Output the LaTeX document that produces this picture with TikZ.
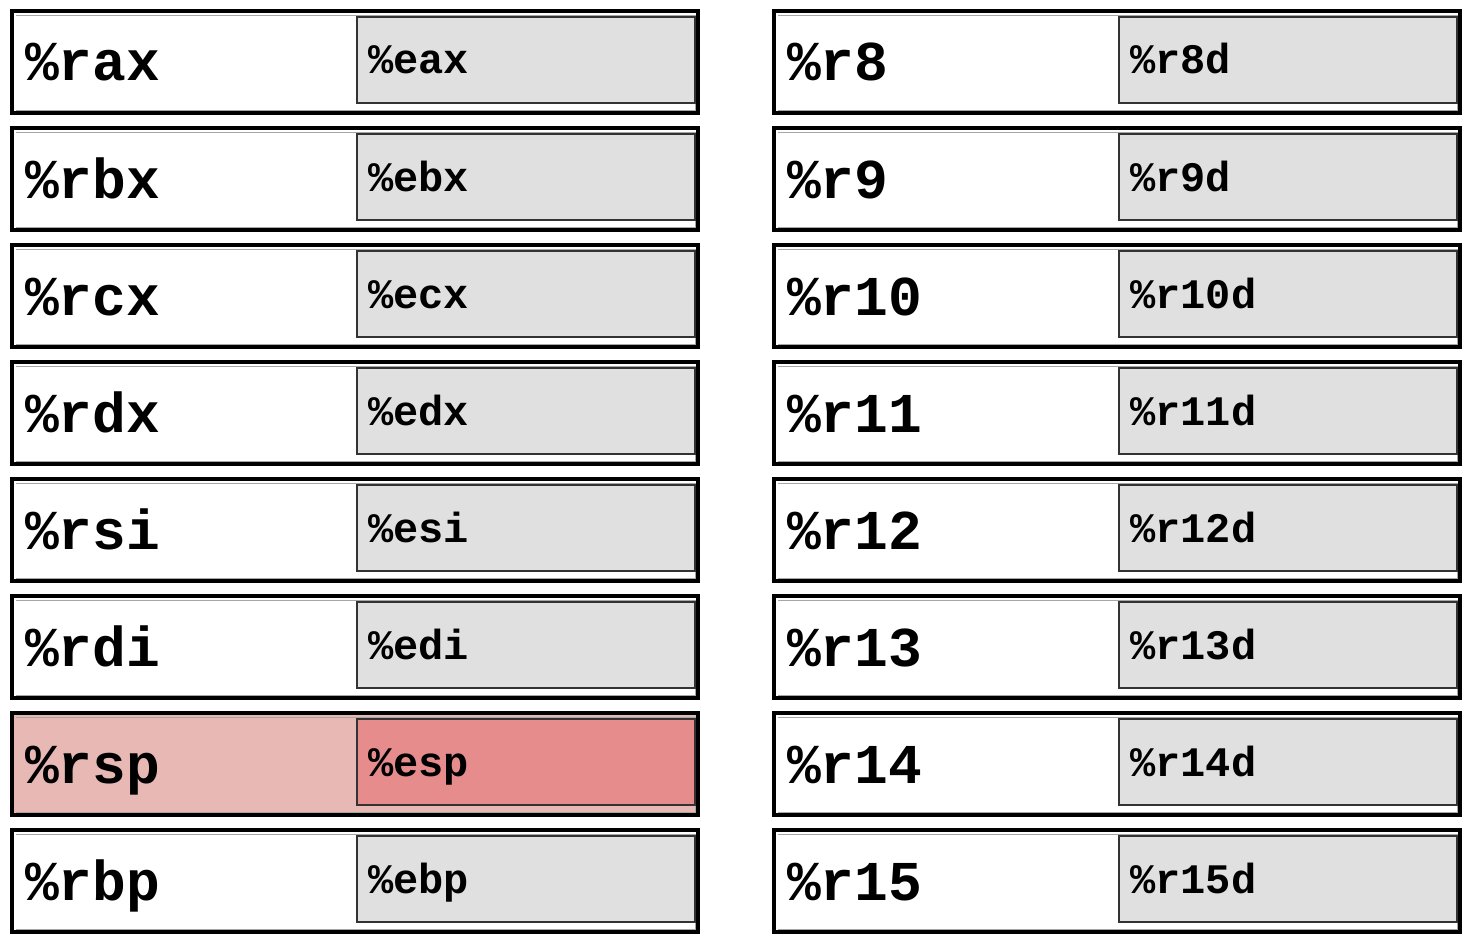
\documentclass[tikz,border=0pt]{standalone}
\usepackage{fontspec}
\setmonofont{Liberation Mono}
\usetikzlibrary{positioning}
\definecolor{subgray}{HTML}{E0E0E0}
\definecolor{rsplight}{HTML}{E8B8B5}
\definecolor{rspdark}{HTML}{E78C8C}

\begin{document}
\begin{tikzpicture}[x=1pt,y=-1pt,
  regbox/.style={draw, line width=4pt, minimum width=686pt, minimum height=102pt, inner sep=0pt, outer sep=0pt, anchor=north west},
  subbox/.style={draw=black!80, line width=1.5pt, minimum width=338pt, minimum height=86pt, inner sep=0pt, outer sep=0pt, anchor=north west},
  innerline/.style={draw=black!35, line width=0.8pt},
  reglabel/.style={font=\ttfamily\bfseries\fontsize{56.25}{60}\selectfont, inner sep=0pt, anchor=base west},
  sublabel/.style={font=\ttfamily\bfseries\fontsize{42}{46}\selectfont, inner sep=0pt, anchor=base west}]
\useasboundingbox (0,0) rectangle (1480,950);

% left column
\foreach \r/\s/\fa/\fb/\lw [count=\i from 0] in {rax/eax/white/subgray/1.5,rbx/ebx/white/subgray/1.5,rcx/ecx/white/subgray/1.5,rdx/edx/white/subgray/1.5,rsi/esi/white/subgray/1.5,rdi/edi/white/subgray/1.5,rsp/esp/rsplight/rspdark/2.5,rbp/ebp/white/subgray/1.5}{
  \node[regbox, fill=\fa] (\r) at (12,11+117*\i) {};
  \draw[innerline] (16,15+117*\i) -- (695,15+117*\i) -- (695,110+117*\i) -- (16,110+117*\i);
  \node[subbox, fill=\fb, line width=\lw pt] (\s) at (357,17+117*\i) {};
  \node[reglabel] (\r-lbl) at (25,81+117*\i) {\%\r};
  \node[sublabel] (\s-lbl) at (368,74+117*\i) {\%\s};
}

% right column
\foreach \r [count=\i from 0] in {8,9,10,11,12,13,14,15}{
  \node[regbox, fill=white] (r\r) at (774,11+117*\i) {};
  \draw[innerline] (778,15+117*\i) -- (1457,15+117*\i) -- (1457,110+117*\i) -- (778,110+117*\i);
  \node[subbox, fill=subgray] (r\r d) at (1119,17+117*\i) {};
  \node[reglabel] (r\r-lbl) at (787,81+117*\i) {\%r\r};
  \node[sublabel] (r\r d-lbl) at (1130,74+117*\i) {\%r\r d};
}

\end{tikzpicture}
\end{document}
